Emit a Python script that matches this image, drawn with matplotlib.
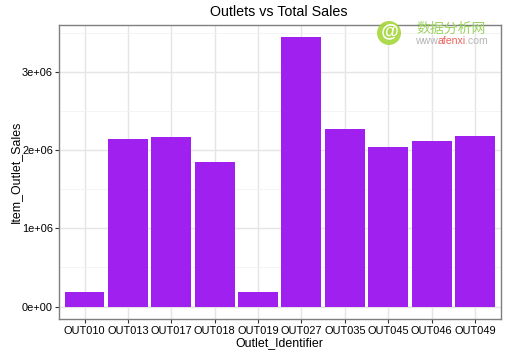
import matplotlib
matplotlib.use("Agg")
import matplotlib.pyplot as plt
from matplotlib.patches import Ellipse

outlets = ["OUT010", "OUT013", "OUT017", "OUT018", "OUT019",
           "OUT027", "OUT035", "OUT045", "OUT046", "OUT049"]
sales = [188000, 2143000, 2167000, 1852000, 180000,
         3454000, 2268000, 2037000, 2118000, 2184000]
y_ticks = [0, 1000000, 2000000, 3000000]
y_labels = ["0e+00", "1e+06", "2e+06", "3e+06"]
y_minor = [500000, 1500000, 2500000, 3500000]

plt.rcParams["font.family"] = ["Liberation Sans", "DejaVu Sans"]

W, H = 507, 356
fig = plt.figure(figsize=(W / 100, H / 100), dpi=100)
ax = fig.add_axes([58.5 / W, 1 - 319 / H, 442.5 / W, 294.5 / H])

x = list(range(len(outlets)))
ax.bar(x, sales, width=0.92, color="#A020F0", zorder=3)

ax.set_xlim(-0.6, 9.6)
ax.set_ylim(-160000, 3610000)
ax.set_xticks(x)
ax.set_xticklabels(outlets, fontsize=7.9)
ax.set_yticks(y_ticks)
ax.set_yticklabels(y_labels, fontsize=7.9)
ax.set_yticks(y_minor, minor=True)

# grid like theme_bw
ax.grid(which="major", color="#E5E5E5", linewidth=1.0, zorder=0)
ax.grid(which="minor", axis="y", color="#F3F3F3", linewidth=0.6, zorder=0)
ax.tick_params(which="minor", length=0)
ax.tick_params(axis="x", which="major", length=2.9, width=0.8, color="#333333", pad=2)
ax.tick_params(axis="y", which="major", length=2.9, width=0.8, color="#333333", pad=1)

for s in ax.spines.values():
    s.set_color("#7F7F7F")
    s.set_linewidth(1.0)

fig.text(279 / W, 1 - 343 / H, "Outlet_Identifier", fontsize=8.9, ha="center", va="center")
fig.text(16 / W, 1 - 172 / H, "Item_Outlet_Sales", fontsize=8.9, ha="center", va="center",
         rotation=90)
fig.text(279 / W, 1 - 12 / H, "Outlets vs Total Sales", fontsize=10.3,
         ha="center", va="center")

# site watermark, top right
fig.add_artist(Ellipse((389 / W, 1 - 33 / H), 24 / W, 24 / H, facecolor="#A5D63C",
                       edgecolor="none", transform=fig.transFigure, alpha=0.9))
fig.text(389 / W, 1 - 32 / H, "@", fontsize=13, color="white", ha="center",
         va="center", style="italic", weight="bold")
fig.text(416 / W, 1 - 29 / H, "数据分析网", fontsize=10, color="#9CD35F",
         ha="left", va="center", family=["Noto Sans CJK SC", "DejaVu Sans"])
fig.text(415 / W, 1 - 41.5 / H, "www.", fontsize=7.6, color="#B5B5B5", ha="left", va="center")
fig.text(438 / W, 1 - 41.5 / H, "afenxi", fontsize=7.6, color="#F0605A", ha="left", va="center")
fig.text(465 / W, 1 - 41.5 / H, ".com", fontsize=7.6, color="#B5B5B5", ha="left", va="center")

fig.savefig("out.png", dpi=100)
